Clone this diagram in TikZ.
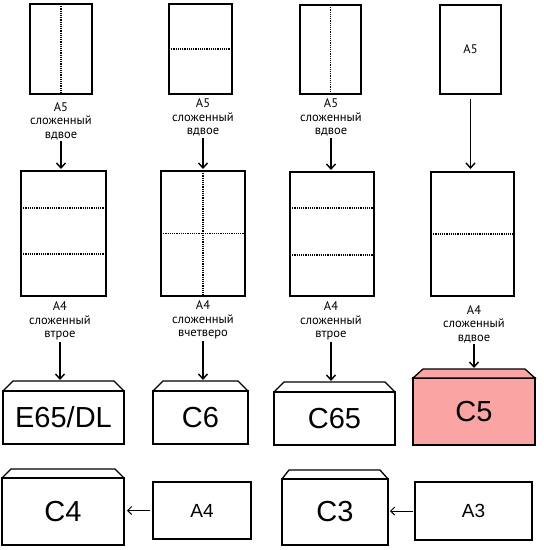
\documentclass[tikz,border=0pt]{standalone}
\usepackage{fontspec}
\setmainfont{Liberation Sans}
\newfontfamily\lblfont{PT Sans}
\usetikzlibrary{arrows.meta}
\definecolor{envpink}{RGB}{250,164,164}
\tikzset{
  sheet/.style={draw, line width=1.3pt, inner sep=0pt, outer sep=0pt, fill=white},
  fold/.style={line width=1.1pt, dash pattern=on 1.1pt off 1.1pt},
  lbl/.style={font=\lblfont\fontsize{12.5}{13.5}\selectfont, align=center, inner sep=1.5pt},
  env/.style={draw, line width=1.3pt, inner sep=0pt, outer sep=0pt, font=\fontsize{29}{32}\selectfont},
  flap/.style={draw, line width=1.3pt, line join=miter},
  papertext/.style={font=\fontsize{19}{22}\selectfont},
  arr/.style={line width=1.4pt, -{Straight Barb[length=5pt,width=9pt]}},
  thinarr/.style={line width=1pt, -{Straight Barb[length=4pt,width=8pt]}}
}
\begin{document}
\begin{tikzpicture}[x=1pt,y=-1pt]
\useasboundingbox (0,0) rectangle (544,550);

% ---- top row: A5 sheets
\node[sheet, minimum width=62pt, minimum height=90pt] (a1) at (61,49) {};
\node[sheet, minimum width=63pt, minimum height=90pt] (a2) at (200.5,49) {};
\node[sheet, minimum width=61pt, minimum height=89pt] (a3) at (330.5,49.5) {};
\node[sheet, minimum width=61pt, minimum height=89pt, lbl] (a4) at (470.5,49.5) {A5};
\draw[fold] (a1.north) -- (a1.south);
\draw[fold] (a2.west) -- (a2.east);
\draw[fold] (a3.north) -- (a3.south);

\node[lbl] (la1) at (61,121) {A5\\сложенный\\вдвое};
\node[lbl] (la2) at (203,117.5) {A5\\сложенный\\вдвое};
\node[lbl] (la3) at (331,117.5) {A5\\сложенный\\вдвое};

% ---- middle row: A4 sheets
\node[sheet, minimum width=85pt, minimum height=125pt] (b1) at (63.5,233.5) {};
\node[sheet, minimum width=84pt, minimum height=125pt] (b2) at (203,233.5) {};
\node[sheet, minimum width=84pt, minimum height=124pt] (b3) at (332,234) {};
\node[sheet, minimum width=83pt, minimum height=124pt] (b4) at (472.5,234) {};
\draw[fold] (b1.west |- 0,208) -- (b1.east |- 0,208);
\draw[fold] (b1.west |- 0,254) -- (b1.east |- 0,254);
\draw[fold] (b2.north) -- (b2.south);
\draw[fold] (b2.west) -- (b2.east);
\draw[fold] (b3.west |- 0,208) -- (b3.east |- 0,208);
\draw[fold] (b3.west |- 0,255) -- (b3.east |- 0,255);
\draw[fold] (b4.west) -- (b4.east);

\node[lbl] (lb1) at (60,321) {A4\\сложенный\\втрое};
\node[lbl] (lb2) at (203,320) {A4\\сложенный\\вчетверо};
\node[lbl] (lb3) at (331,321) {A4\\сложенный\\втрое};
\node[lbl] (lb4) at (474,324) {A4\\сложенный\\вдвое};

% ---- envelopes
\node[env, minimum width=121pt, minimum height=53pt] (e1) at (63.5,417.5) {E65/DL};
\node[env, minimum width=95pt, minimum height=53pt] (e2) at (200.5,417.5) {C6};
\node[env, minimum width=121pt, minimum height=53pt] (e3) at (334.5,418.5) {C65};
\node[env, fill=envpink, minimum width=122pt, minimum height=67pt] (e4) at (474,411.5) {C5};
\node[env, minimum width=122pt, minimum height=67pt] (e5) at (63,511.5) {C4};
\node[env, minimum width=106pt, minimum height=66pt] (e6) at (335,512) {C3};

\coordinate (f1) at ([yshift=10pt]e1.north);
\coordinate (f2) at ([yshift=10pt]e2.north);
\coordinate (f3) at ([yshift=10pt]e3.north);
\coordinate (f4) at ([yshift=9pt]e4.north);

\draw[flap] (e1.north west) -- ([xshift=10pt,yshift=10pt]e1.north west) -- ([xshift=-10pt,yshift=10pt]e1.north east) -- (e1.north east);
\draw[flap] (e2.north west) -- ([xshift=10pt,yshift=10pt]e2.north west) -- ([xshift=-10pt,yshift=10pt]e2.north east) -- (e2.north east);
\draw[flap] (e3.north west) -- ([xshift=10pt,yshift=10pt]e3.north west) -- ([xshift=-10pt,yshift=10pt]e3.north east) -- (e3.north east);
\draw[flap, fill=envpink] (e4.north west) -- ([xshift=10pt,yshift=9pt]e4.north west) -- ([xshift=-10pt,yshift=9pt]e4.north east) -- (e4.north east) -- cycle;
\draw[flap] (e5.north west) -- ([xshift=9pt,yshift=9pt]e5.north west) -- ([xshift=-9pt,yshift=9pt]e5.north east) -- (e5.north east);
\draw[flap] (e6.north west) -- ([xshift=7pt,yshift=9pt]e6.north west) -- ([xshift=-8pt,yshift=9pt]e6.north east) -- (e6.north east);

% ---- loose sheets
\node[sheet, papertext, minimum width=98pt, minimum height=57pt] (p1) at (202,510.5) {A4};
\node[sheet, papertext, minimum width=117pt, minimum height=58pt] (p2) at (473.5,511) {A3};

% ---- arrows
\draw[arr, shorten >=2pt] (la1.south) -- (la1.south |- b1.north);
\draw[arr, shorten >=2pt] (la2.south) -- (la2.south |- b2.north);
\draw[arr, shorten >=2pt] (la3.south) -- (la3.south |- b3.north);
\draw[arr, shorten <=5pt, shorten >=3pt] (a4.south) -- (a4.south |- b4.north);

\draw[arr, shorten >=1pt] (lb1.south) -- (lb1.south |- f1);
\draw[arr, shorten >=1pt] (lb2.south) -- (lb2.south |- f2);
\draw[arr, shorten >=1pt] (lb3.south) -- (lb3.south |- f3);
\draw[arr, shorten >=1pt] (lb4.south) -- (lb4.south |- f4);

\draw[thinarr, shorten <=3pt, shorten >=3pt] (p1.west) -- (p1.west -| e5.east);
\draw[thinarr, shorten <=2pt, shorten >=2pt] (p2.west) -- (p2.west -| e6.east);
\end{tikzpicture}
\end{document}
